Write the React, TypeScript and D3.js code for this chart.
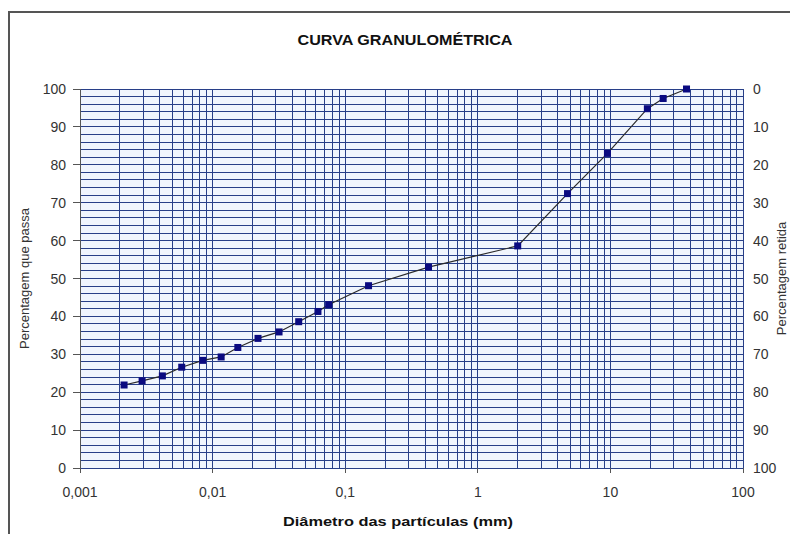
import React from 'react';
import * as d3 from 'd3';

// granulometric curve: particle diameter (mm) vs. percentage passing
const diameters = [
  0.00215, 0.00294, 0.00418, 0.00585, 0.00842, 0.0116, 0.0155, 0.022, 0.0317, 0.0446,
  0.0623, 0.075, 0.15, 0.425, 2.0, 4.75, 9.5, 19, 25, 37.5,
];
const passing = [
  21.9, 23.0, 24.3, 26.6, 28.4, 29.3, 31.8, 34.2, 35.9, 38.6,
  41.3, 43.1, 48.1, 53.0, 58.6, 72.4, 83.0, 94.8, 97.5, 100,
];

const xTickValues = [0.001, 0.01, 0.1, 1, 10, 100];
const xTickLabels = ['0,001', '0,01', '0,1', '1', '10', '100'];
const leftTicks = [0, 10, 20, 30, 40, 50, 60, 70, 80, 90, 100];
const rightTicks = [0, 10, 20, 30, 40, 50, 60, 70, 80, 90, 100];

const title = 'CURVA GRANULOMÉTRICA';
const xTitle = 'Diâmetro das partículas (mm)';
const yTitle = 'Percentagem que passa';
const y2Title = 'Percentagem retida';

export default function App() {
  const width = 790;
  const height = 534;
  const margin = { top: 89, right: 47, bottom: 66, left: 80 };

  const x = d3.scaleLog().domain([0.001, 100]).range([margin.left, width - margin.right]);
  const y = d3.scaleLinear().domain([0, 100]).range([height - margin.bottom, margin.top]);
  const y2 = d3.scaleLinear().domain([0, 100]).range([margin.top, height - margin.bottom]);

  const points = diameters.map((d, i) => ({ d, p: passing[i] }));

  const line = d3.line<{ d: number; p: number }>()
    .x((v) => x(v.d))
    .y((v) => y(v.p));

  // minor log gridlines 1..9 in every decade
  const vGrid: number[] = [];
  d3.range(-3, 2).forEach((k) => {
    d3.range(1, 10).forEach((m) => vGrid.push(m * Math.pow(10, k)));
  });
  vGrid.push(100);
  const hGrid = d3.range(0, 101, 2);

  const [x0, x1] = x.range();
  const [yb, yt] = y.range();
  const font = '"Liberation Sans", Arial, sans-serif';
  const gridColor = '#283f88';

  return (
    <svg width={width} height={height} style={{ position: 'absolute', left: 0, top: 0, background: '#fff' }}>
      <rect x={9} y={12} width={width} height={height} fill="#fff" stroke="#555" strokeWidth={2} />

      <text x={405} y={45} textAnchor="middle" fontFamily={'"Liberation Sans Narrow", ' + font}
        fontWeight="bold" fontSize={15} textLength={215} lengthAdjust="spacingAndGlyphs" fill="#111">
        {title}
      </text>

      <rect x={x0} y={yt} width={x1 - x0} height={yb - yt} fill="#f0f5fd" />
      <g stroke={gridColor} strokeWidth={1} shapeRendering="crispEdges">
        {hGrid.map((v) => (
          <line key={'h' + v} x1={x0} x2={x1} y1={y(v)} y2={y(v)} />
        ))}
        {vGrid.map((v, i) => (
          <line key={'v' + i} x1={x(v)} x2={x(v)} y1={yt} y2={yb} />
        ))}
      </g>

      <g fontFamily={font} fontSize={14} fill="#333">
        <line x1={x0} x2={x0} y1={yt} y2={yb + 5} stroke="#555" shapeRendering="crispEdges" />
        {leftTicks.map((v) => (
          <g key={'l' + v}>
            <line x1={x0 - 7} x2={x0} y1={y(v)} y2={y(v)} stroke="#555" shapeRendering="crispEdges" />
            <text x={66} y={y(v) + 5} textAnchor="end">{v}</text>
          </g>
        ))}
        {rightTicks.map((v) => (
          <text key={'r' + v} x={753} y={y2(v) + 5} textAnchor="start">{v}</text>
        ))}
        {xTickValues.map((v, i) => (
          <g key={'x' + v}>
            <line x1={x(v)} x2={x(v)} y1={yb} y2={yb + 5} stroke="#555" shapeRendering="crispEdges" />
            <text x={x(v)} y={yb + 29} textAnchor="middle">{xTickLabels[i]}</text>
          </g>
        ))}
      </g>

      <text transform={`translate(29, ${(yt + yb) / 2}) rotate(-90)`} textAnchor="middle"
        fontFamily={font} fontSize={13} fill="#333">
        {yTitle}
      </text>
      <text transform={`translate(786, ${(yt + yb) / 2}) rotate(-90)`} textAnchor="middle"
        fontFamily={font} fontSize={13} fill="#333">
        {y2Title}
      </text>
      <text x={398} y={526} textAnchor="middle" fontFamily={font} fontWeight="bold" fontSize={13}
        textLength={230} lengthAdjust="spacingAndGlyphs" fill="#111">
        {xTitle}
      </text>

      <path d={line(points) || ''} fill="none" stroke="#2a2a2a" strokeWidth={1.2} />
      {points.map((v, i) => (
        <rect key={'p' + i} x={x(v.d) - 3.5} y={y(v.p) - 3.5} width={7} height={7} fill="#0a0a80" />
      ))}
    </svg>
  );
}
